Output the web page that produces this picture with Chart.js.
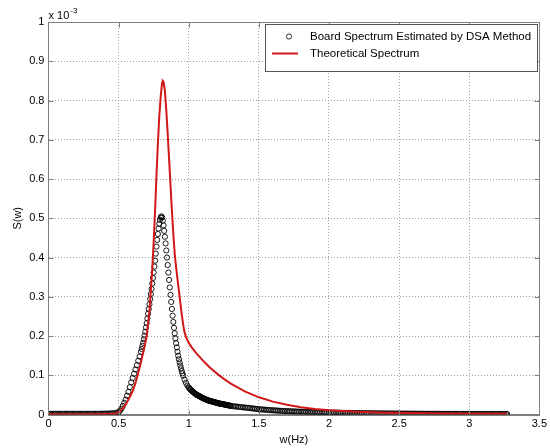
<!DOCTYPE html>
<html>
<head>
<meta charset="utf-8">
<script src="https://cdn.jsdelivr.net/npm/chart.js@4.4.1/dist/chart.umd.min.js"></script>
<style>
  body { margin: 0; background: #fff; }
  #wrap { width: 550px; height: 448px; }
</style>
</head>
<body>
<div id="wrap"><canvas id="spectrumChart" width="550" height="448"></canvas></div>
<script>
// values are in units of 1e-3 (see the "x 10^-3" note above the y axis)
const xTicks = [0, 0.5, 1, 1.5, 2, 2.5, 3, 3.5];
const xTickLabels = ['0', '0.5', '1', '1.5', '2', '2.5', '3', '3.5'];
const yTicks = [0, 0.1, 0.2, 0.3, 0.4, 0.5, 0.6, 0.7, 0.8, 0.9, 1];
const yTickLabels = ['0', '0.1', '0.2', '0.3', '0.4', '0.5', '0.6', '0.7', '0.8', '0.9', '1'];

const seriesNames = ['Board Spectrum Estimated by DSA Method', 'Theoretical Spectrum'];

// DSA estimate (circles)
const dsaFreq = [
  0, 0.0125, 0.025, 0.0375, 0.05, 0.0625, 0.075, 0.0875,
  0.1, 0.1125, 0.125, 0.1375, 0.15, 0.1625, 0.175, 0.1875,
  0.2, 0.2125, 0.225, 0.2375, 0.25, 0.2625, 0.275, 0.2875,
  0.3, 0.3125, 0.325, 0.3375, 0.35, 0.3625, 0.375, 0.3875,
  0.4, 0.4125, 0.425, 0.4375, 0.45, 0.4625, 0.475, 0.4875,
  0.5, 0.51, 0.52, 0.53, 0.54, 0.55, 0.56, 0.57, 0.58, 0.59, 0.6, 0.61, 0.62, 0.63, 0.64, 0.65, 0.66,
  0.665, 0.67, 0.675, 0.68, 0.685, 0.69, 0.695, 0.7, 0.705, 0.71, 0.715, 0.72, 0.725, 0.73, 0.735, 0.74, 0.745, 0.75,
  0.755, 0.76, 0.765, 0.77, 0.775, 0.78, 0.785, 0.79, 0.795, 0.8, 0.805, 0.81, 0.815, 0.82, 0.825, 0.83, 0.835, 0.84,
  0.845, 0.85, 0.855, 0.86, 0.865, 0.87, 0.875, 0.88, 0.885, 0.89, 0.895, 0.9, 0.905, 0.91, 0.915, 0.92, 0.925, 0.93,
  0.935, 0.94, 0.945, 0.95, 0.955, 0.96, 0.97, 0.98, 0.99,
  1.0, 1.005, 1.01, 1.015, 1.02, 1.025, 1.03, 1.035, 1.04, 1.045, 1.05, 1.055, 1.06, 1.065, 1.07, 1.075, 1.08, 1.085, 1.09, 1.095,
  1.1, 1.105, 1.11, 1.115, 1.12, 1.125, 1.13, 1.135, 1.14, 1.145, 1.15, 1.155, 1.16, 1.165, 1.17, 1.175, 1.18, 1.185, 1.19, 1.195,
  1.2, 1.205, 1.21, 1.215, 1.22, 1.225, 1.23, 1.235, 1.24, 1.245, 1.25, 1.255, 1.26, 1.265, 1.27, 1.275, 1.28, 1.285, 1.29, 1.295,
  1.3, 1.3125, 1.325, 1.3375, 1.35, 1.3625, 1.375, 1.3875,
  1.4, 1.4125, 1.425, 1.4375, 1.45, 1.4625, 1.475, 1.4875,
  1.5, 1.5125, 1.525, 1.5375, 1.55, 1.5625, 1.575, 1.5875,
  1.6, 1.6125, 1.625, 1.6375, 1.65, 1.6625, 1.675, 1.6875,
  1.7, 1.7125, 1.725, 1.7375, 1.75, 1.7625, 1.775, 1.7875,
  1.8, 1.8125, 1.825, 1.8375, 1.85, 1.8625, 1.875, 1.8875,
  1.9, 1.9125, 1.925, 1.9375, 1.95, 1.9625, 1.975, 1.9875,
  2.0, 2.0125, 2.025, 2.0375, 2.05, 2.0625, 2.075, 2.0875,
  2.1, 2.1125, 2.125, 2.1375, 2.15, 2.1625, 2.175, 2.1875,
  2.2, 2.2125, 2.225, 2.2375, 2.25, 2.2625, 2.275, 2.2875,
  2.3, 2.3125, 2.325, 2.3375, 2.35, 2.3625, 2.375, 2.3875,
  2.4, 2.4125, 2.425, 2.4375, 2.45, 2.4625, 2.475, 2.4875,
  2.5, 2.5125, 2.525, 2.5375, 2.55, 2.5625, 2.575, 2.5875,
  2.6, 2.6125, 2.625, 2.6375, 2.65, 2.6625, 2.675, 2.6875,
  2.7, 2.7125, 2.725, 2.7375, 2.75, 2.7625, 2.775, 2.7875,
  2.8, 2.8125, 2.825, 2.8375, 2.85, 2.8625, 2.875, 2.8875,
  2.9, 2.9125, 2.925, 2.9375, 2.95, 2.9625, 2.975, 2.9875,
  3.0, 3.0125, 3.025, 3.0375, 3.05, 3.0625, 3.075, 3.0875,
  3.1, 3.1125, 3.125, 3.1375, 3.15, 3.1625, 3.175, 3.1875,
  3.2, 3.2125, 3.225, 3.2375, 3.25, 3.2625, 3.27
];
const dsaVal = [
  0.002, 0.002, 0.002, 0.002, 0.002, 0.002, 0.002, 0.002,
  0.002, 0.002, 0.002, 0.002, 0.002, 0.002, 0.002, 0.002,
  0.002, 0.002, 0.002, 0.002, 0.002, 0.002, 0.002, 0.002,
  0.002, 0.002, 0.002, 0.002, 0.002, 0.0021, 0.0022, 0.0023,
  0.0024, 0.0025, 0.0026, 0.0028, 0.003, 0.0033, 0.0038, 0.0046,
  0.006, 0.01, 0.015, 0.022, 0.03, 0.038, 0.048, 0.058, 0.07, 0.082, 0.093, 0.104, 0.115, 0.126, 0.137, 0.148, 0.16,
  0.167, 0.175, 0.183, 0.192, 0.201, 0.211, 0.222, 0.233, 0.245, 0.257, 0.269, 0.281, 0.294, 0.307, 0.32, 0.334, 0.348, 0.362,
  0.377, 0.392, 0.41, 0.428, 0.445, 0.46, 0.474, 0.486, 0.496, 0.502, 0.505, 0.502, 0.494, 0.482, 0.468, 0.453, 0.436, 0.418,
  0.4, 0.381, 0.362, 0.343, 0.324, 0.305, 0.287, 0.269, 0.252, 0.236, 0.221, 0.207, 0.194, 0.182, 0.171, 0.16, 0.15, 0.141,
  0.133, 0.125, 0.118, 0.111, 0.105, 0.099, 0.089, 0.081, 0.074,
  0.069, 0.067, 0.065, 0.063, 0.061, 0.0595, 0.058, 0.0565, 0.055, 0.0535, 0.052, 0.051, 0.05, 0.049, 0.048, 0.047, 0.046, 0.045, 0.044, 0.043,
  0.042, 0.0412, 0.0405, 0.0398, 0.039, 0.0382, 0.0375, 0.0368, 0.036, 0.0355, 0.035, 0.0345, 0.034, 0.0335, 0.033, 0.0325, 0.032, 0.0315, 0.031, 0.0305,
  0.03, 0.0295, 0.029, 0.0285, 0.028, 0.0277, 0.0274, 0.0272, 0.027, 0.0266, 0.0262, 0.0258, 0.025, 0.0247, 0.0244, 0.0242, 0.024, 0.0235, 0.023, 0.0225,
  0.022, 0.0215, 0.021, 0.0205, 0.02, 0.0195, 0.019, 0.0185,
  0.018, 0.0175, 0.017, 0.0165, 0.016, 0.0154, 0.0148, 0.0142,
  0.0137, 0.0133, 0.013, 0.0126, 0.0123, 0.0119, 0.0116, 0.0113,
  0.011, 0.0107, 0.0104, 0.0101, 0.0098, 0.0095, 0.0093, 0.009,
  0.0088, 0.0086, 0.0084, 0.0082, 0.008, 0.0078, 0.0077, 0.0075,
  0.0074, 0.0072, 0.0071, 0.0069, 0.0068, 0.0066, 0.0065, 0.0063,
  0.0062, 0.0061, 0.006, 0.0058, 0.0057, 0.0056, 0.0055, 0.0054,
  0.0053, 0.0052, 0.0051, 0.005, 0.0049, 0.0048, 0.0047, 0.0046,
  0.0045, 0.0044, 0.0043, 0.0043, 0.0042, 0.0041, 0.004, 0.0039,
  0.0039, 0.0038, 0.0037, 0.0037, 0.0036, 0.0035, 0.0035, 0.0034,
  0.0034, 0.0033, 0.0032, 0.0032, 0.0031, 0.0031, 0.003, 0.003,
  0.0029, 0.0029, 0.0028, 0.0028, 0.0028, 0.0027, 0.0027, 0.0026,
  0.0026, 0.0026, 0.0025, 0.0025, 0.0025, 0.0024, 0.0024, 0.0024,
  0.0023, 0.0023, 0.0023, 0.0022, 0.0022, 0.0022, 0.0022, 0.0021,
  0.0021, 0.0021, 0.0021, 0.002, 0.002, 0.002, 0.002, 0.002,
  0.0019, 0.0019, 0.0019, 0.0019, 0.0019, 0.0018, 0.0018, 0.0018,
  0.0018, 0.0018, 0.0017, 0.0017, 0.0017, 0.0017, 0.0017, 0.0017,
  0.0016, 0.0016, 0.0016, 0.0016, 0.0016, 0.0016, 0.0016, 0.0015,
  0.0015, 0.0015, 0.0015, 0.0015, 0.0015, 0.0015, 0.0015, 0.0015,
  0.0014, 0.0014, 0.0014, 0.0014, 0.0014, 0.0014, 0.0014
];

// theoretical spectrum (red line)
const thFreq = [
  0, 0.1, 0.2, 0.3, 0.4, 0.45, 0.48, 0.5, 0.52, 0.55, 0.58, 0.6, 0.62, 0.65, 0.68, 0.7, 0.72, 0.74, 0.75, 0.76, 0.77, 0.78,
  0.79, 0.8, 0.81, 0.815, 0.82, 0.83, 0.84, 0.85, 0.86, 0.87, 0.88, 0.89, 0.9, 0.91, 0.92, 0.93, 0.94, 0.95, 0.96, 0.97,
  0.98, 0.99, 1.0, 1.02, 1.05, 1.1, 1.15, 1.2, 1.25, 1.3, 1.4, 1.5, 1.6, 1.7, 1.8, 1.9, 2.0, 2.2, 2.4, 2.6, 2.8, 3.0, 3.27
];
const thVal = [
  0.001, 0.001, 0.001, 0.001, 0.0015, 0.002, 0.003, 0.006, 0.012, 0.025, 0.045, 0.06, 0.08, 0.12, 0.165, 0.2, 0.265, 0.37, 0.44, 0.52, 0.61, 0.69,
  0.76, 0.81, 0.845, 0.85, 0.848, 0.825, 0.775, 0.715, 0.65, 0.585, 0.52, 0.46, 0.41, 0.375, 0.345, 0.315, 0.285, 0.255, 0.23, 0.21,
  0.198, 0.19, 0.183, 0.172, 0.158, 0.138, 0.12, 0.105, 0.091, 0.079, 0.059, 0.044, 0.033, 0.025, 0.019, 0.014, 0.011, 0.007, 0.005, 0.004, 0.003, 0.0025, 0.002
];

const FONT = '"Liberation Sans", Arial, sans-serif';
const AXIS_GRAY = '#7f7f7f';
const RED = '#d01818';

const matlabFrame = {
    id: 'matlabFrame',
    afterDraw(chart) {
        const { ctx, chartArea: a, scales: { x, y } } = chart;
        const L = Math.round(a.left) + 0.5, R = Math.round(a.right) + 0.5;
        const T = Math.round(a.top) + 0.5, B = Math.round(a.bottom) + 0.5;
        ctx.save();
        ctx.strokeStyle = AXIS_GRAY;
        ctx.lineWidth = 1;
        ctx.beginPath();
        ctx.moveTo(L, T); ctx.lineTo(R, T); ctx.lineTo(R, B); ctx.lineTo(L, B); ctx.closePath();
        // ticks pointing inward on all four sides
        xTicks.forEach(v => {
            const p = Math.round(x.getPixelForValue(v)) + 0.5;
            ctx.moveTo(p, B); ctx.lineTo(p, B - 5);
            ctx.moveTo(p, T); ctx.lineTo(p, T + 5);
        });
        yTicks.forEach(v => {
            const p = Math.round(y.getPixelForValue(v)) + 0.5;
            ctx.moveTo(L, p); ctx.lineTo(L + 5, p);
            ctx.moveTo(R, p); ctx.lineTo(R - 5, p);
        });
        ctx.stroke();

        // exponent note
        ctx.fillStyle = '#000';
        ctx.textBaseline = 'alphabetic';
        ctx.font = '11px ' + FONT;
        ctx.fillText('x 10', L, 18.5);
        const w = ctx.measureText('x 10').width;
        ctx.font = '8px ' + FONT;
        ctx.fillText('-3', L + w + 1, 13);

        // legend box, top right inside the axes
        const bx = 265.5, by = 24.5, bw = 272, bh = 47;
        ctx.fillStyle = '#fff';
        ctx.fillRect(bx, by, bw, bh);
        ctx.strokeStyle = '#555';
        ctx.strokeRect(bx, by, bw, bh);
        ctx.strokeStyle = '#000';
        ctx.lineWidth = 0.8;
        ctx.beginPath();
        ctx.arc(289, 36.5, 2.6, 0, Math.PI * 2);
        ctx.stroke();
        ctx.strokeStyle = RED;
        ctx.lineWidth = 2;
        ctx.beginPath();
        ctx.moveTo(272, 53.5); ctx.lineTo(298, 53.5);
        ctx.stroke();
        ctx.fillStyle = '#000';
        ctx.font = '11.5px ' + FONT;
        ctx.textBaseline = 'middle';
        ctx.fillText(seriesNames[0], 310, 37);
        ctx.fillText(seriesNames[1], 310, 54);
        ctx.restore();
    }
};

const ctx = document.getElementById('spectrumChart').getContext('2d');
const chart = new Chart(ctx, {
    type: 'scatter',
    data: {
        datasets: [
            {
                label: seriesNames[1],
                data: thFreq.map((f, i) => ({ x: f, y: thVal[i] })),
                showLine: true,
                borderColor: RED,
                borderWidth: 2,
                pointRadius: 0,
                tension: 0,
                order: 0
            },
            {
                label: seriesNames[0],
                data: dsaFreq.map((f, i) => ({ x: f, y: dsaVal[i] })),
                showLine: false,
                pointStyle: 'circle',
                pointRadius: 2.6,
                pointBorderWidth: 0.9,
                borderColor: '#000',
                backgroundColor: 'rgba(0,0,0,0)',
                order: 1
            }
        ]
    },
    options: {
        responsive: false,
        animation: false,
        layout: { padding: { left: 7, right: 10, top: 22, bottom: 1 } },
        plugins: { legend: { display: false }, tooltip: { enabled: false } },
        scales: {
            x: {
                type: 'linear', min: 0, max: 3.5,
                afterBuildTicks: s => { s.ticks = xTicks.map(v => ({ value: v })); },
                ticks: {
                    font: { family: FONT, size: 11 }, color: '#000', padding: 3,
                    maxRotation: 0, autoSkip: false,
                    callback: (v) => xTickLabels[xTicks.indexOf(v)]
                },
                grid: { color: '#a0a0a0', lineWidth: 1, drawTicks: false },
                border: { color: AXIS_GRAY, width: 1, dash: [1, 2] },
                title: { display: true, text: 'w(Hz)', color: '#000', font: { family: FONT, size: 11 }, padding: { top: 0, bottom: 0 } }
            },
            y: {
                type: 'linear', min: 0, max: 1,
                afterBuildTicks: s => { s.ticks = yTicks.map(v => ({ value: v })); },
                ticks: {
                    font: { family: FONT, size: 11 }, color: '#000', padding: 4,
                    autoSkip: false,
                    callback: (v) => yTickLabels[yTicks.indexOf(v)]
                },
                grid: { color: '#a0a0a0', lineWidth: 1, drawTicks: false },
                border: { color: AXIS_GRAY, width: 1, dash: [1, 2] },
                title: { display: true, text: 'S(w)', color: '#000', font: { family: FONT, size: 11 }, padding: { top: 4, bottom: 1 } }
            }
        }
    },
    plugins: [matlabFrame]
});
</script>
</body>
</html>
